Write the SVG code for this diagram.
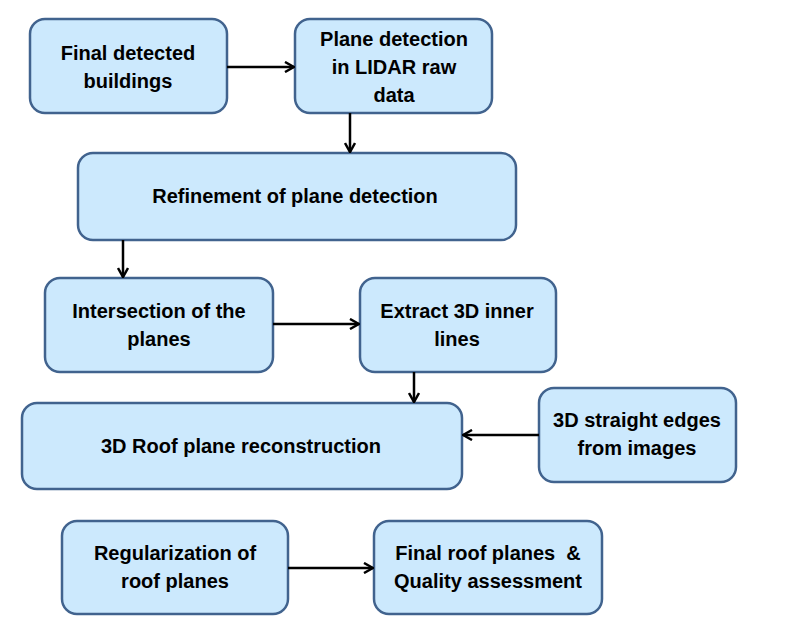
<svg xmlns="http://www.w3.org/2000/svg" width="786" height="641" viewBox="0 0 786 641">
<defs>
<style>
.box{fill:#cce9fd;stroke:#41638e;stroke-width:2.5}
.t{font-family:"Liberation Sans",Arial,sans-serif;font-weight:bold;font-size:20px;fill:#000;text-anchor:middle}
.c{stroke:#000;stroke-width:2.5;fill:none}
</style>
<marker id="ah" viewBox="0 0 12 12" refX="11" refY="6" markerWidth="12" markerHeight="12" markerUnits="userSpaceOnUse" orient="auto">
<path d="M2,1 L11,6 L2,11" fill="none" stroke="#000" stroke-width="2.5"/>
</marker>
</defs>
<rect width="786" height="641" fill="#fff"/>
<g id="n1"><rect class="box" x="30" y="19" width="197" height="94" rx="15"/><text class="t"><tspan x="128" y="60">Final detected</tspan><tspan x="128" y="88">buildings</tspan></text></g>
<g id="n2"><rect class="box" x="295" y="19" width="197" height="94" rx="15"/><text class="t"><tspan x="394" y="46">Plane detection</tspan><tspan x="394" y="74">in LIDAR raw</tspan><tspan x="394" y="102">data</tspan></text></g>
<g id="n3"><rect class="box" x="78" y="153" width="438" height="87" rx="15"/><text class="t" x="295" y="203">Refinement of plane detection</text></g>
<g id="n4"><rect class="box" x="45" y="278" width="228" height="94" rx="15"/><text class="t"><tspan x="159" y="318">Intersection of the</tspan><tspan x="159" y="346">planes</tspan></text></g>
<g id="n5"><rect class="box" x="360" y="278" width="196" height="94" rx="15"/><text class="t"><tspan x="457" y="318">Extract 3D inner</tspan><tspan x="457" y="346">lines</tspan></text></g>
<g id="n6"><rect class="box" x="22" y="403" width="440" height="86" rx="15"/><text class="t" x="241" y="453">3D Roof plane reconstruction</text></g>
<g id="n7"><rect class="box" x="539" y="388" width="197" height="94" rx="15"/><text class="t"><tspan x="637" y="427">3D straight edges</tspan><tspan x="637" y="455">from images</tspan></text></g>
<g id="n8"><rect class="box" x="62" y="521" width="226" height="93" rx="15"/><text class="t"><tspan x="175" y="560">Regularization of</tspan><tspan x="175" y="588">roof planes</tspan></text></g>
<g id="n9"><rect class="box" x="374" y="521" width="228" height="93" rx="15"/><text class="t" xml:space="preserve"><tspan x="488" y="560">Final roof planes  &amp;</tspan><tspan x="488" y="588">Quality assessment</tspan></text></g>
<g id="connectors">
<line class="c" x1="227" y1="67" x2="294" y2="67" marker-end="url(#ah)"/>
<line class="c" x1="350" y1="113" x2="350" y2="152" marker-end="url(#ah)"/>
<line class="c" x1="123" y1="240" x2="123" y2="277" marker-end="url(#ah)"/>
<line class="c" x1="273" y1="324" x2="359" y2="324" marker-end="url(#ah)"/>
<line class="c" x1="414" y1="372" x2="414" y2="402" marker-end="url(#ah)"/>
<line class="c" x1="539" y1="435" x2="463" y2="435" marker-end="url(#ah)"/>
<line class="c" x1="288" y1="568" x2="373" y2="568" marker-end="url(#ah)"/>
</g>
</svg>
